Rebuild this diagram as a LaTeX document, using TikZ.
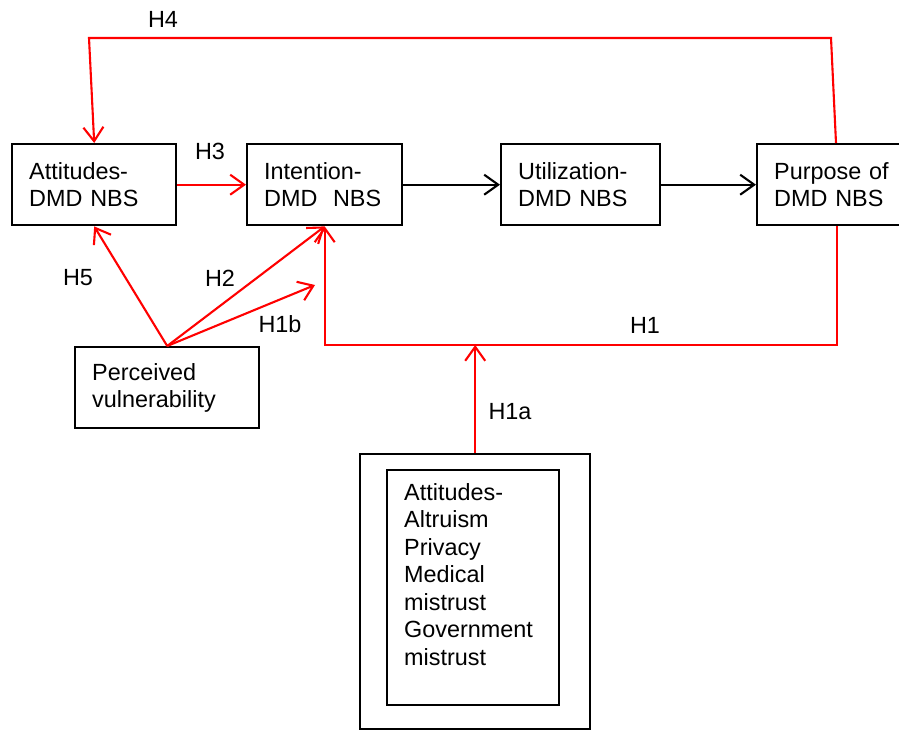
\documentclass[tikz,border=0pt]{standalone}
\usepackage{fontspec}
\setmainfont{Liberation Sans}
\usetikzlibrary{arrows.meta,calc}
\begin{document}
\begin{tikzpicture}[x=1pt,y=-1pt,
  txt/.style={font=\fontsize{23.4}{27.5}\selectfont},
  box/.style={txt, draw=black, line width=2.4pt, anchor=north west,
    minimum height=81pt, inner xsep=17pt, inner ysep=0pt, align=left},
  frame/.style={draw=black, line width=2.4pt, anchor=north west, inner sep=0pt},
  lbl/.style={txt, inner sep=0pt},
  tip/.style={-{Straight Barb[length=14pt,width=20pt]}},
  redline/.style={draw=red, line width=2.1pt},
  redarrow/.style={redline, tip},
  blackarrow/.style={draw=black, line width=2.1pt, tip}
]
\useasboundingbox (0,0) rectangle (899,730);
\clip (0,0) rectangle (899,730);

% main chain of constructs
\node[box, text width=130pt] (attitudes)   at (11,143)  {Attitudes-\\DMD NBS};
\node[box, text width=121pt] (intention)   at (246,143) {Intention-\\DMD\ \ NBS};
\node[box, text width=125pt] (utilization) at (500,143) {Utilization-\\DMD NBS};
\node[box, text width=126pt] (purpose)     at (756,143) {Purpose of\\DMD NBS};
\node[box, text width=150pt] (perceived)   at (74,346)  {Perceived\\vulnerability};

% moderators box
\node[frame, minimum width=230pt, minimum height=275pt] (outer) at (359,453) {};
\node[frame, minimum width=172pt, minimum height=235pt] (inner) at (386,469) {};
\node[txt, anchor=north west, inner sep=0pt, align=left] (innertext) at (404,483)
  {Attitudes-\\Altruism\\Privacy\\Medical\\mistrust\\Government\\mistrust};

% routing points
\coordinate (h4start) at ($(purpose.north west)+(80,0)$);
\coordinate (h4a) at (831,38);
\coordinate (h4b) at (89,38);
\coordinate (h1start) at ($(purpose.south west)+(81,0)$);
\coordinate (h1r) at (h1start |- 0,345);
\coordinate (h1l) at (intention.south |- h1r);
\coordinate (h1j) at (outer.north |- h1r);
\coordinate (h1bend) at (315,285);

% black path
\draw[blackarrow] (intention.east) -- (utilization.west);
\draw[blackarrow] (utilization.east) -- (purpose.west);

% hypotheses
\draw[redarrow] (attitudes.east) -- (intention.west);
\draw[redarrow] (h4start) -- (h4a) -- (h4b) -- (attitudes.north);
\draw[redarrow] (h1start) -- (h1r) -- (h1l) -- (intention.south);
\draw[redarrow] (outer.north) -- (h1j);
\draw[redarrow] (perceived.north) -- (attitudes.south);
\draw[redarrow] (perceived.north) -- (intention.south);
\draw[redarrow] (perceived.north) -- (h1bend);

% hypothesis labels
\node[lbl] (lh4)  at (163,19)  {H4};
\node[lbl] (lh3)  at (210,151) {H3};
\node[lbl] (lh5)  at (78,278)  {H5};
\node[lbl] (lh2)  at (220,278) {H2};
\node[lbl] (lh1b) at (280,324) {H1b};
\node[lbl] (lh1)  at (645,325) {H1};
\node[lbl] (lh1a) at (510,412) {H1a};
\end{tikzpicture}
\end{document}
